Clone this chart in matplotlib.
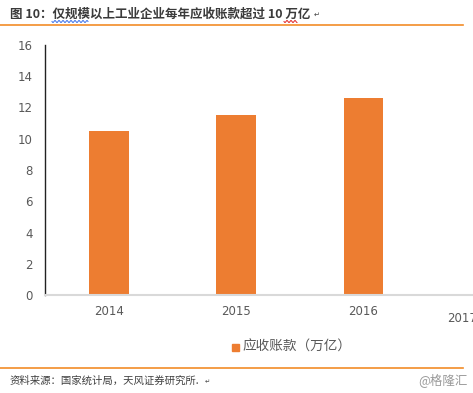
import matplotlib
matplotlib.use("Agg")
import matplotlib.pyplot as plt
import numpy as np

plt.rcParams['font.family'] = ['Noto Sans CJK SC', 'DejaVu Sans']

# 数据
years = ['2014', '2015', '2016']
receivables = [10.5, 11.5, 12.6]
yticks = [0, 2, 4, 6, 8, 10, 12, 14, 16]
title = '图 10：仅规模以上工业企业每年应收账款超过 10 万亿'
source = '资料来源：国家统计局，天风证券研究所.'
legend_label = '应收账款（万亿）'

W, H = 473, 393
fig = plt.figure(figsize=(W / 100, H / 100), dpi=100)

def fx(px):
    return px / W

def fy(py):
    return 1 - py / H

orange = '#ED7D31'
grey = '#595959'

# 坐标轴
ax = fig.add_axes([fx(45.3), fy(295), fx(473 - 45.3), (295 - 45) / H])
x = np.arange(len(years))
ax.bar(x, receivables, width=0.31, color=orange, zorder=2)
ax.set_ylim(0, 16)
ax.set_xlim(-0.5, -0.5 + (473 - 45.3) / 127.2)
ax.set_yticks(yticks)
ax.set_yticklabels([str(v) for v in yticks], fontsize=8.5, color=grey, family='DejaVu Sans')
ax.set_xticks(x)
ax.set_xticklabels(years, fontsize=8.5, color=grey, family='DejaVu Sans')
ax.tick_params(axis='both', length=0)
ax.tick_params(axis='y', pad=9)
ax.tick_params(axis='x', pad=7)
for s in ['top', 'right']:
    ax.spines[s].set_visible(False)
ax.spines['left'].set_color('#222222')
ax.spines['left'].set_linewidth(1.0)
ax.spines['bottom'].set_color('#d9d9d9')
ax.spines['bottom'].set_linewidth(1.5)

# 右侧被裁掉的 2017 标签（原图即如此）
fig.text(fx(447), fy(318), '2017', fontsize=8.5, color=grey, family='DejaVu Sans', va='center')

# 图例
fig.patches.append(plt.Rectangle((fx(232), fy(351)), fx(7), 7 / H, color=orange,
                                 transform=fig.transFigure, figure=fig))
fig.text(fx(242), fy(347), legend_label, fontsize=9.8, color=grey, va='center')

# 标题与分隔线
fig.text(fx(10), fy(14), title, fontsize=9, fontweight='bold', color='#3a3a3a', va='center')
fig.text(fx(314), fy(15), '↵', fontsize=5, color='#404040', va='center', family='DejaVu Sans')
fig.add_artist(plt.Line2D([0, fx(463)], [fy(25), fy(25)], color='#F28C28', lw=1.2))
fig.add_artist(plt.Line2D([0, fx(463)], [fy(368), fy(368)], color='#F28C28', lw=1.2))

# 拼写检查波浪线
def wavy(x0, x1, y, color):
    px = np.linspace(x0, x1, int((x1 - x0) * 2))
    py = y + 1.0 * np.sin((px - x0) / 2.0 * np.pi)
    fig.add_artist(plt.Line2D(fx(px), fy(py), color=color, lw=0.7))

wavy(52, 88, 21.5, '#3a6ee8')
wavy(284, 297, 21.5, '#e02020')

# 来源
fig.text(fx(10), fy(381), source, fontsize=7.5, color='#404040', va='center')
fig.text(fx(205), fy(382), '↵', fontsize=4.5, color='#404040', va='center', family='DejaVu Sans')
fig.text(fx(468), fy(380), '@格隆汇', fontsize=9, color='#9a9a9a', va='center', ha='right')

fig.savefig('out.png', dpi=100)
